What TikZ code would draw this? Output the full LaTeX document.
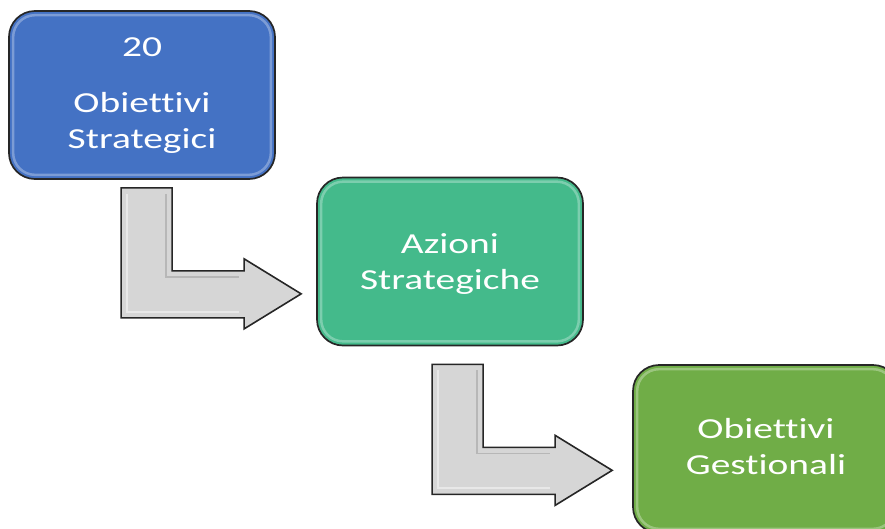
\documentclass[tikz,border=0pt]{standalone}
\usepackage{fontspec}
\usepackage{graphicx}
\setmainfont[Ligatures=NoCommon]{Carlito}
\usetikzlibrary{calc}
\definecolor{boxblue}{HTML}{4472C4}
\definecolor{boxteal}{HTML}{44BA8B}
\definecolor{boxgreen}{HTML}{70AD47}
\definecolor{edgedark}{HTML}{262626}
\definecolor{arrowfill}{HTML}{D6D6D6}
% wide, centred multi-line label
\newcommand{\widelabel}[1]{\scalebox{1.36}[1]{\begin{tabular}{@{}c@{}}#1\end{tabular}}}
\tikzset{
  stage/.style={draw=edgedark, line width=1.7pt, rounded corners=26pt,
    minimum width=266pt, minimum height=168pt, inner sep=0pt,
    text=white, align=center, font=\fontsize{29}{36}\selectfont},
  glint/.style={draw=white, line width=2.5pt, opacity=0.3, rounded corners=22pt},
  bentarrow/.pic={
    \fill[arrowfill, draw=edgedark, line width=1.6pt, line join=miter]
      (0,0) -- (51,0) -- (51,83) -- (123,83) -- (123,71) -- (180,106)
      -- (123,141) -- (123,130) -- (0,130) -- cycle;
    \draw[white, line width=2pt, opacity=0.45]
      (6,6) -- (6,124) -- (118,124);
    \draw[gray, line width=1.5pt, opacity=0.35]
      (45,6) -- (45,89) -- (118,89);
  }
}
\begin{document}
\begin{tikzpicture}[x=1pt, y=-1pt]
  \useasboundingbox (0,0) rectangle (885,528);
  \begin{scope}
    \clip (0,0) rectangle (885,528);
    % the three stages
    \node[stage, fill=boxblue] (b1) at (142,95) {\widelabel{20\\[20pt]Obiettivi\\Strategici}};
    \node[stage, fill=boxteal] (b2) at (450,261.5) {\widelabel{\rule{0pt}{31pt}Azioni\\Strategiche}};
    \node[stage, fill=boxgreen] (b3) at (766,449) {\widelabel{Obiettivi\\Gestionali}};
    % soft inner highlights along the rims
    \foreach \b in {b1,b2,b3}{
      \draw[glint] ($(\b.north west)+(5,5)$) rectangle ($(\b.south east)+(-5,-5)$);
    }
    % bent arrows leading from one stage to the next
    \pic at ($(b1.south west)+(113,8)$) {bentarrow};
    \pic at ($(b2.south west)+(116,18)$) {bentarrow};
  \end{scope}
\end{tikzpicture}
\end{document}
